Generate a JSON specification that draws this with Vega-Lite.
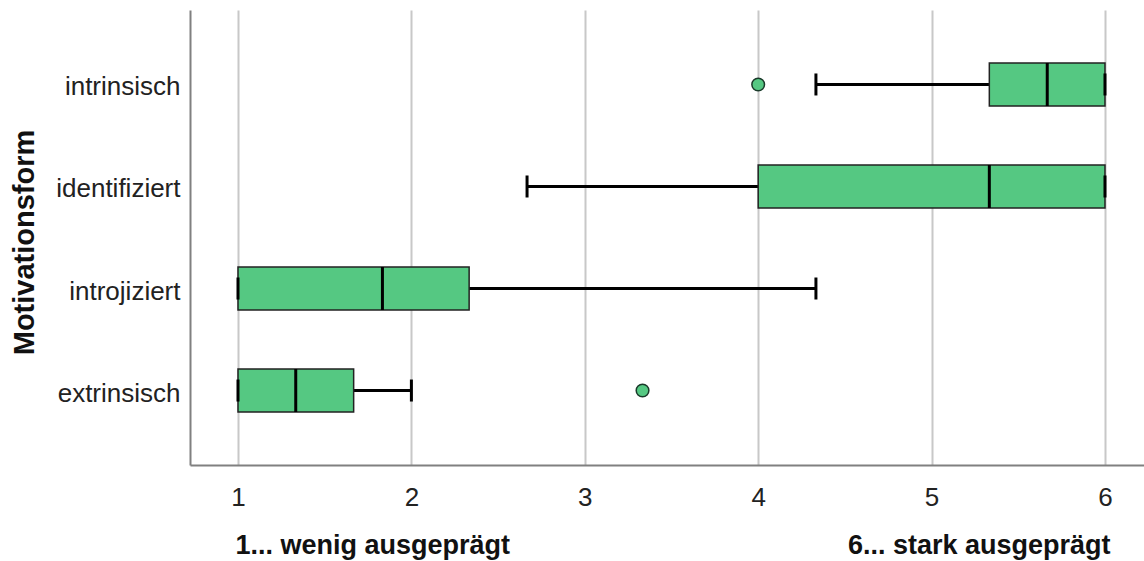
{
  "$schema": "https://vega.github.io/schema/vega-lite/v6.json",
  "width": 954,
  "height": 455,
  "autosize": {"type": "none"},
  "padding": {"left": 190, "top": 10, "right": 0, "bottom": 96},
  "background": "white",
  "config": {"view": {"stroke": null}, "font": "Liberation Sans"},
  "datasets": {
    "boxes": [
      {"cat": "intrinsisch", "lo": 4.333, "q1": 5.333, "med": 5.667, "q3": 6, "hi": 6},
      {"cat": "identifiziert", "lo": 2.667, "q1": 4, "med": 5.333, "q3": 6, "hi": 6},
      {"cat": "introjiziert", "lo": 1, "q1": 1, "med": 1.833, "q3": 2.333, "hi": 4.333},
      {"cat": "extrinsisch", "lo": 1, "q1": 1, "med": 1.333, "q3": 1.667, "hi": 2}
    ],
    "outliers": [
      {"cat": "intrinsisch", "v": 4},
      {"cat": "extrinsisch", "v": 3.333}
    ]
  },
  "layer": [
    {
      "data": {"name": "boxes"},
      "mark": {"type": "rule", "stroke": "#000000", "strokeWidth": 3},
      "encoding": {
        "y": {
          "field": "cat", "type": "nominal",
          "sort": ["intrinsisch", "identifiziert", "introjiziert", "extrinsisch"],
          "scale": {"paddingInner": 0.58, "paddingOuter": 0.52},
          "axis": {
            "title": "Motivationsform", "titleFontSize": 29, "titleFontWeight": "bold",
            "titleColor": "#111111", "titleAngle": -90, "titleX": -166, "titleY": 232,
            "titleBaseline": "middle", "titleAlign": "center",
            "domainColor": "#808080", "domainWidth": 2, "ticks": false, "grid": false,
            "labelFontSize": 26, "labelColor": "#222222", "labelPadding": 10, "labelOffset": 3
          }
        },
        "x": {
          "field": "lo", "type": "quantitative",
          "scale": {"domain": [0.7232, 6.225], "nice": false, "zero": false},
          "axis": {
            "orient": "bottom", "grid": true, "gridColor": "#c8c8c8", "gridWidth": 2,
            "domainColor": "#808080", "domainWidth": 2, "ticks": false,
            "values": [1, 2, 3, 4, 5, 6], "labelFontSize": 26, "labelColor": "#222222",
            "labelPadding": 19,
            "title": "1... wenig ausgeprägt", "titleFontSize": 27, "titleFontWeight": "bold",
            "titleColor": "#111111", "titleAlign": "left", "titleAnchor": "start",
            "titleX": 45, "titleY": 88, "titleBaseline": "alphabetic"
          }
        },
        "x2": {"field": "hi"}
      }
    },
    {
      "data": {"name": "boxes"},
      "mark": {"type": "bar", "fill": "#55C882", "stroke": "#222222", "strokeWidth": 1.5},
      "encoding": {
        "y": {"field": "cat", "type": "nominal", "sort": ["intrinsisch", "identifiziert", "introjiziert", "extrinsisch"]},
        "x": {
          "field": "q1", "type": "quantitative",
          "axis": {
            "orient": "bottom", "grid": false, "domain": false, "ticks": false, "labels": false,
            "title": "6... stark ausgeprägt", "titleFontSize": 27, "titleFontWeight": "bold",
            "titleColor": "#111111", "titleAlign": "right", "titleAnchor": "end",
            "titleX": 920, "titleY": 88, "titleBaseline": "alphabetic"
          }
        },
        "x2": {"field": "q3"}
      }
    },
    {
      "data": {"name": "boxes"},
      "mark": {"type": "tick", "color": "#000000", "thickness": 3, "size": 43, "opacity": 1},
      "encoding": {
        "y": {"field": "cat", "type": "nominal", "sort": ["intrinsisch", "identifiziert", "introjiziert", "extrinsisch"]},
        "x": {"field": "med", "type": "quantitative", "axis": null}
      }
    },
    {
      "data": {"name": "boxes"},
      "mark": {"type": "tick", "color": "#000000", "thickness": 3, "size": 22, "opacity": 1},
      "encoding": {
        "y": {"field": "cat", "type": "nominal", "sort": ["intrinsisch", "identifiziert", "introjiziert", "extrinsisch"]},
        "x": {"field": "lo", "type": "quantitative", "axis": null}
      }
    },
    {
      "data": {"name": "boxes"},
      "mark": {"type": "tick", "color": "#000000", "thickness": 3, "size": 22, "opacity": 1},
      "encoding": {
        "y": {"field": "cat", "type": "nominal", "sort": ["intrinsisch", "identifiziert", "introjiziert", "extrinsisch"]},
        "x": {"field": "hi", "type": "quantitative", "axis": null}
      }
    },
    {
      "data": {"name": "outliers"},
      "mark": {"type": "point", "filled": true, "fill": "#55C882", "stroke": "#1a3a2a", "strokeWidth": 1.5, "size": 160, "opacity": 1},
      "encoding": {
        "y": {"field": "cat", "type": "nominal", "sort": ["intrinsisch", "identifiziert", "introjiziert", "extrinsisch"]},
        "x": {"field": "v", "type": "quantitative", "axis": null}
      }
    }
  ],
  "resolve": {"axis": {"x": "independent"}}
}
